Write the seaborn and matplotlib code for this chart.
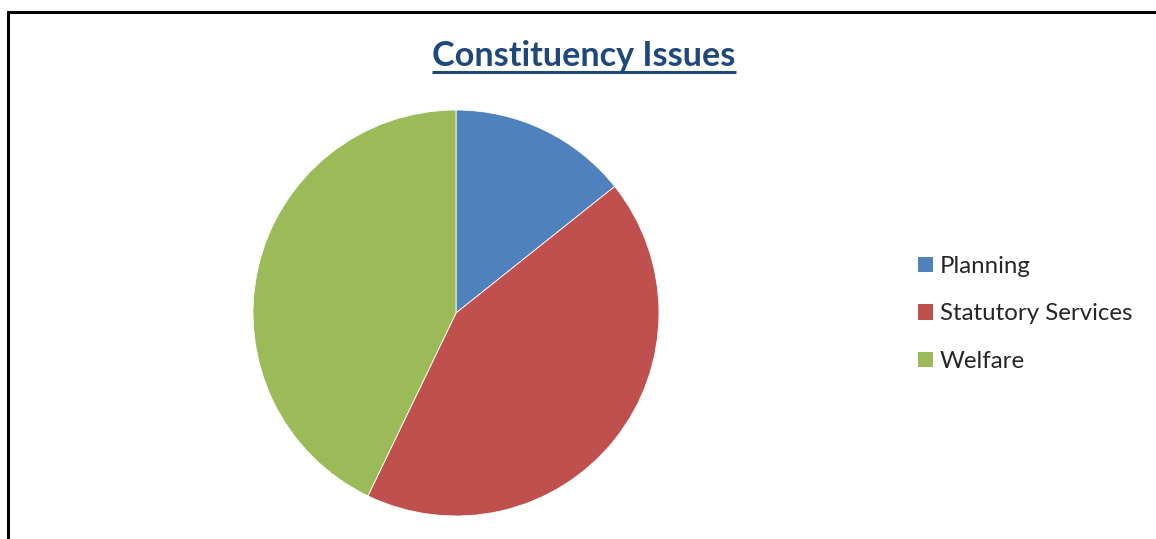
import matplotlib
matplotlib.use("Agg")
import matplotlib.pyplot as plt
from matplotlib.patches import Patch
from matplotlib.lines import Line2D
import seaborn as sns

# Issue categories and their case counts
categories = ["Planning", "Statutory Services", "Welfare"]
cases = [1, 3, 3]
colors = ["#4F81BD", "#C0504D", "#9BBB59"]
title = "Constituency Issues"

sns.set_theme(style="white")
plt.rcParams["font.family"] = ["Lato", "DejaVu Sans"]

W, H = 1156, 539
fig = plt.figure(figsize=(W / 100, H / 100), dpi=100)
fig.patch.set_facecolor("white")

# Chart border: left and top edges (the rest runs off the canvas)
bx, by = 7.5 / W, 1 - 11.5 / H
fig.add_artist(Line2D([bx, bx, 1.0], [0.0, by, by], transform=fig.transFigure,
                      color="black", linewidth=2.2, solid_joinstyle="miter"))

# Pie axes: centre (456, 313) px, radius 203 px
cx, cy, r = 456, 313, 203
ax = fig.add_axes([(cx - r) / W, (H - cy - r) / H, 2 * r / W, 2 * r / H])
wedges, _ = ax.pie(cases, colors=colors, startangle=90, counterclock=False,
                   radius=1.0, wedgeprops=dict(linewidth=0.6, edgecolor="white"))
ax.set_xlim(-1, 1)
ax.set_ylim(-1, 1)
ax.set_aspect("equal")
ax.axis("off")

# Title with underline
t = fig.text(584 / W, 1 - 66 / H, title, ha="center", va="baseline",
             fontsize=24.6, fontweight="bold", color="#1F497D")
fig.canvas.draw()
bb = t.get_window_extent(renderer=fig.canvas.get_renderer())
uy = 1 - 71.5 / H
fig.add_artist(Line2D([bb.x0 / W, bb.x1 / W], [uy, uy], transform=fig.transFigure,
                      color="#1F497D", linewidth=2.2, solid_capstyle="butt"))

# Legend
handles = [Patch(facecolor=c, edgecolor="none") for c in colors]
fig.legend(handles, categories, loc="center left",
           bbox_to_anchor=(918 / W, 1 - 314 / H), frameon=False,
           fontsize=17.3, handlelength=0.62, handleheight=0.62,
           handletextpad=0.3, labelspacing=1.1, borderpad=0, borderaxespad=0)

fig.savefig("out.png", dpi=100, facecolor="white")
